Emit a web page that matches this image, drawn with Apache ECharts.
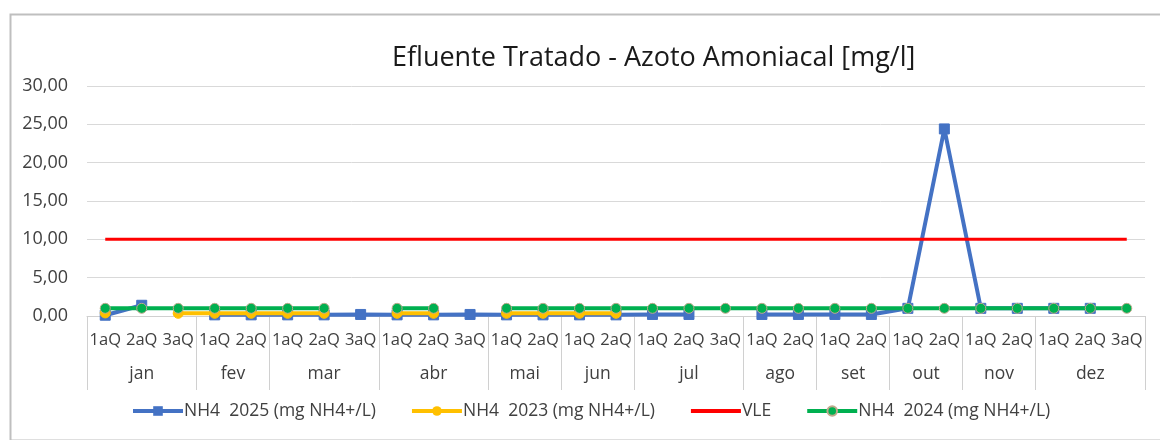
<!DOCTYPE html>
<html>
<head>
<meta charset="utf-8">
<script src="https://cdn.jsdelivr.net/npm/echarts@6/dist/echarts.min.js"></script>
<style>
html,body{margin:0;padding:0;background:#fff;}
#chart{width:1160px;height:440px;}
</style>
</head>
<body>
<div id="chart"></div>
<script>
// Categories
const periods = ['1aQ','2aQ','3aQ','1aQ','2aQ','1aQ','2aQ','3aQ','1aQ','2aQ','3aQ','1aQ','2aQ','1aQ','2aQ','1aQ','2aQ','3aQ','1aQ','2aQ','1aQ','2aQ','1aQ','2aQ','1aQ','2aQ','1aQ','2aQ','3aQ'];
const months = ['jan','fev','mar','abr','mai','jun','jul','ago','set','out','nov','dez'];
const monthCounts = [3,2,3,3,2,2,3,2,2,2,2,3];
const yTicks = [0,5,10,15,20,25,30];

// Series values
const nh4_2025 = [0.1,1.4,null,0.15,0.15,0.15,0.15,0.2,0.15,0.15,0.2,0.15,0.15,0.15,0.15,0.2,0.2,null,0.2,0.2,0.2,0.2,1.0,24.4,1.0,1.0,1.0,1.0,null];
const nh4_2023 = [0.4,null,0.35,0.35,0.35,0.35,0.35,null,0.35,0.35,null,0.35,0.35,0.35,0.35,null,null,null,null,null,null,null,null,null,null,null,null,null,null];
const vle = [10,10,10,10,10,10,10,10,10,10,10,10,10,10,10,10,10,10,10,10,10,10,10,10,10,10,10,10,10];
const nh4_2024 = [1.0,1.0,1.0,1.0,1.0,1.0,1.0,null,1.0,1.0,null,1.0,1.0,1.0,1.0,1.0,1.0,1.0,1.0,1.0,1.0,1.0,1.0,1.0,1.0,1.0,1.0,1.0,1.0];

const seriesNames = ['NH4  2025 (mg NH4+/L)','NH4  2023 (mg NH4+/L)','VLE','NH4  2024 (mg NH4+/L)'];

// month boundaries and centers on a 0..N scale
const bounds = [0];
monthCounts.forEach(c => bounds.push(bounds[bounds.length-1] + c));
const centers = months.map((m,i) => (bounds[i] + bounds[i+1]) / 2);
const N = periods.length;

const FONT = '"Open Sans", Lato, sans-serif';
const chart = echarts.init(document.getElementById('chart'), null, {renderer:'canvas'});

const option = {
  backgroundColor: '#ffffff',
  animation: false,
  graphic: [{
    type: 'rect', left: 8, top: 12, z: -1,
    shape: {width: 1170, height: 426},
    style: {fill: 'none', stroke: '#bfbfbf', lineWidth: 2}
  }],
  title: {
    text: 'Efluente Tratado - Azoto Amoniacal [mg/l]',
    left: 387, top: 40,
    textStyle: {fontFamily: FONT, fontSize: 27, fontWeight: 'normal', color: '#1a1a1a'}
  },
  legend: {
    bottom: 15, left: 126,
    itemWidth: 50, itemHeight: 12, itemGap: 34,
    lineStyle: {width: 4},
    textStyle: {fontFamily: FONT, fontSize: 17.5, color: '#404040', padding:[0,0,0,-4]},
    data: [seriesNames[0], seriesNames[1], {name: seriesNames[2], itemStyle: {opacity: 0}}, seriesNames[3]]
  },
  grid: {left: 87, right: 15, top: 86, bottom: 124, containLabel: false},
  xAxis: [{
    type: 'category',
    data: periods,
    boundaryGap: true,
    axisLine: {show: true, lineStyle: {color: '#d0d0d0', width: 1}},
    axisTick: {show: false},
    axisLabel: {interval: 0, fontFamily: FONT, fontSize: 16.5, color: '#404040', margin: 16}
  }, {
    type: 'value',
    min: 0, max: N,
    position: 'bottom',
    axisLine: {show: false},
    splitLine: {show: false},
    axisTick: {show: true, length: 74, lineStyle: {color: '#d0d0d0', width: 1}, customValues: bounds},
    axisLabel: {
      show: true, fontFamily: FONT, fontSize: 17.5, color: '#404040', margin: 49,
      customValues: centers,
      formatter: function(v){ const i = centers.indexOf(v); return i >= 0 ? months[i] : ''; }
    }
  }],
  yAxis: {
    type: 'value', min: 0, max: 30, interval: 5,
    axisLine: {show: false},
    axisTick: {show: false},
    splitLine: {lineStyle: {color: '#d9d9d9', width: 1}},
    axisLabel: {fontFamily: FONT, fontSize: 18, color: '#404040', margin: 19,
      formatter: v => v.toFixed(2).replace('.', ',')}
  },
  series: [{
    name: seriesNames[0], type: 'line', xAxisIndex: 0, data: nh4_2025,
    connectNulls: false, z: 2,
    symbol: 'rect', symbolSize: 10,
    lineStyle: {color: '#4472C4', width: 4},
    itemStyle: {color: '#4472C4', borderColor: '#4472C4'}
  }, {
    name: seriesNames[1], type: 'line', xAxisIndex: 0, data: nh4_2023,
    connectNulls: false, z: 3,
    symbol: 'circle', symbolSize: 10,
    lineStyle: {color: '#FFC000', width: 4},
    itemStyle: {color: '#FFC000', borderColor: '#FFC000'}
  }, {
    name: seriesNames[2], type: 'line', xAxisIndex: 0, data: vle,
    symbol: 'none', z: 2,
    lineStyle: {color: '#FF0000', width: 3},
    itemStyle: {color: '#FF0000'}
  }, {
    name: seriesNames[3], type: 'line', xAxisIndex: 0, data: nh4_2024,
    connectNulls: false, z: 4,
    symbol: 'circle', symbolSize: 10,
    lineStyle: {color: '#00B050', width: 4},
    itemStyle: {color: '#00B050', borderColor: '#BFA98C', borderWidth: 1}
  }]
};
chart.setOption(option);
</script>
</body>
</html>
